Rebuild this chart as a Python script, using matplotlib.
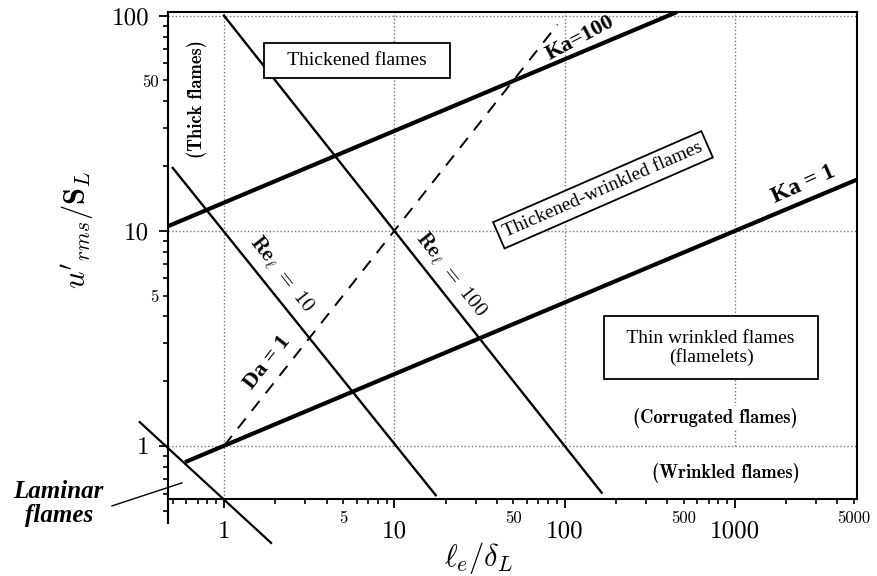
import numpy as np
import matplotlib.pyplot as plt
from matplotlib.ticker import FixedLocator, FuncFormatter

plt.rcParams['mathtext.fontset'] = 'cm'

# boundary lines, end points in (l_e/delta_L, u'/S_L)
ka1_x = [0.59, 5212]
ka1_y = [0.84, 17.3]
ka100_x = [0.469, 457]
ka100_y = [10.5, 104]
re10_x = [0.5, 17.5]
re10_y = [19.6, 0.59]
re100_x = [1, 165]
re100_y = [100, 0.606]
lam_x = [0.32, 1.89]
lam_y = [1.29, 0.354]
da1_x = [1, 91]
da1_y = [1, 91]

# ticks
x_major = [1, 10, 100, 1000]
x_minor = [0.5, 0.6, 0.7, 0.8, 0.9] + list(range(2, 10)) + list(range(20, 100, 10)) \
    + list(range(200, 1000, 100)) + [2000, 3000, 4000, 5000]
x_minor_lab = [5, 50, 500, 5000]
y_major = [1, 10, 100]
y_minor = [0.5, 0.6, 0.7, 0.8, 0.9] + list(range(2, 10)) + list(range(20, 100, 10))
y_minor_lab = [5, 50]

# dotted guide lines
grid_x_full = [1]
grid_x_upper = [10, 100, 1000]
grid_y = [1, 10, 100]

fig = plt.figure(figsize=(8.77, 5.76), dpi=100)
ax = fig.add_axes([0.19156, 0.09201, 0.78563, 0.88715])
ax.set_xscale('log')
ax.set_yscale('log')
ax.set_xlim(0.469, 5212)
ax.set_ylim(0.438, 104)
y_bot = 0.567

gkw = dict(color='#777777', lw=1.0, linestyle=(0, (1, 1.6)), zorder=1)
for g in grid_y:
    ax.plot([0.469, 5212], [g, g], **gkw)
for g in grid_x_full:
    ax.plot([g, g], [y_bot, 104], **gkw)
for g in grid_x_upper:
    ax.plot([g, g], [1, 104], **gkw)

ax.plot(ka1_x, ka1_y, color='black', lw=3.0, solid_capstyle='butt', zorder=3)
ax.plot(ka100_x, ka100_y, color='black', lw=3.0, solid_capstyle='butt', zorder=3)
ax.plot(re10_x, re10_y, color='black', lw=1.7, zorder=3)
ax.plot(re100_x, re100_y, color='black', lw=1.7, zorder=3)
ax.plot(lam_x, lam_y, color='black', lw=1.6, zorder=3, clip_on=False)
ax.plot(da1_x, da1_y, color='black', lw=1.4, linestyle=(0, (6.5, 5)), zorder=2)

# frame
for s in ['top', 'right', 'left', 'bottom']:
    ax.spines[s].set_linewidth(1.5)
ax.spines['bottom'].set_position(('data', y_bot))
ax.spines['right'].set_bounds(y_bot, 104)

ax.xaxis.set_major_locator(FixedLocator(x_major))
ax.xaxis.set_minor_locator(FixedLocator(x_minor))
ax.yaxis.set_major_locator(FixedLocator(y_major))
ax.yaxis.set_minor_locator(FixedLocator(y_minor))
ax.xaxis.set_major_formatter(FuncFormatter(lambda v, p: '%g' % v))
ax.yaxis.set_major_formatter(FuncFormatter(lambda v, p: '%g' % v))
ax.xaxis.set_minor_formatter(FuncFormatter(lambda v, p: '%g' % v if round(v) in x_minor_lab and v >= 1 else ''))
ax.yaxis.set_minor_formatter(FuncFormatter(lambda v, p: '%g' % v if round(v) in y_minor_lab and v >= 1 else ''))

ax.tick_params(which='major', direction='out', length=6.5, width=1.3, top=False, right=False)
ax.tick_params(which='minor', direction='out', length=3.6, width=1.2, top=False, right=False)
ax.tick_params(axis='x', which='major', pad=9)
ax.tick_params(axis='x', which='minor', pad=5)
ax.tick_params(axis='y', which='major', pad=7)
ax.tick_params(axis='y', which='minor', pad=3)
for lab in ax.get_xticklabels() + ax.get_yticklabels():
    lab.set_fontfamily('cmr10')
    lab.set_fontsize(18)
for lab in ax.get_xticklabels(minor=True) + ax.get_yticklabels(minor=True):
    lab.set_fontfamily('cmr10')
    lab.set_fontsize(12)

ax.set_xlabel(r'$\ell_e/\delta_L$', fontsize=22, va='center')
ax.xaxis.set_label_coords(0.4514, -0.0685)
ax.set_ylabel(r"$u'_{rms}/\mathbf{S}_L$", fontsize=22, va='center', ha='center')
ax.yaxis.set_label_coords(-0.1306, 0.573)

box = dict(boxstyle='square,pad=0.45', facecolor='white', edgecolor='black', lw=1.3)
serif = 'Liberation Serif'

ax.text(6.04, 61.8, '   Thickened flames   ', fontsize=14, family=serif,
        ha='center', va='center', bbox=box, zorder=5)
ax.text(168, 15.5, 'Thickened-wrinkled flames', fontsize=14, family=serif,
        rotation=23.6, ha='center', va='center', rotation_mode='anchor',
        bbox=dict(boxstyle='square,pad=0.3', facecolor='white', edgecolor='black', lw=1.3), zorder=5)
ax.text(724, 2.86, '  Thin wrinkled flames  \n(flamelets)', fontsize=14, family=serif,
        ha='center', va='center', linespacing=1.1,
        bbox=dict(boxstyle='square,pad=0.7', facecolor='white', edgecolor='black', lw=1.3), zorder=5)

ax.text(0.694, 41.1, '(Thick flames)', fontsize=13.3, family='cmb10',
        rotation=90, ha='center', va='center', zorder=5)
ax.text(764, 1.35, '(Corrugated flames)', fontsize=13.3, family='cmb10',
        ha='center', va='center', zorder=5,
        bbox=dict(boxstyle='square,pad=0.1', facecolor='white', edgecolor='none'))
ax.text(887, 0.749, '(Wrinkled flames)', fontsize=13.3, family='cmb10',
        ha='center', va='center', zorder=5)

ax.text(123, 79, 'Ka=100', fontsize=16, family=serif, weight='bold',
        rotation=28, ha='center', va='center', rotation_mode='anchor', zorder=5)
ax.text(2512, 16.4, 'Ka = 1', fontsize=17, family=serif, weight='bold',
        rotation=24, ha='center', va='center', rotation_mode='anchor', zorder=5)
ax.text(1.79, 2.43, 'Da = 1', fontsize=16, family=serif, weight='bold',
        rotation=51.6, ha='center', va='center', rotation_mode='anchor', zorder=5)
ax.text(2.19, 6.24, r'$\mathbf{Re}_\ell\ \mathbf{=\ 10}$', fontsize=15,
        rotation=-51.6, ha='center', va='center', rotation_mode='anchor', zorder=5)
ax.text(21.5, 6.24, r'$\mathbf{Re}_\ell\ \mathbf{=\ 100}$', fontsize=15,
        rotation=-51.6, ha='center', va='center', rotation_mode='anchor', zorder=5)

# laminar region label, outside the frame
fig.text(0.067, 0.126, 'Laminar\nflames', fontsize=18, family=serif,
         style='italic', weight='bold', ha='center', va='center', linespacing=1.1)
ax.plot([0.22, 0.567], [0.526, 0.673], color='black', lw=1.0, clip_on=False)

fig.savefig('out.png', dpi=100)
